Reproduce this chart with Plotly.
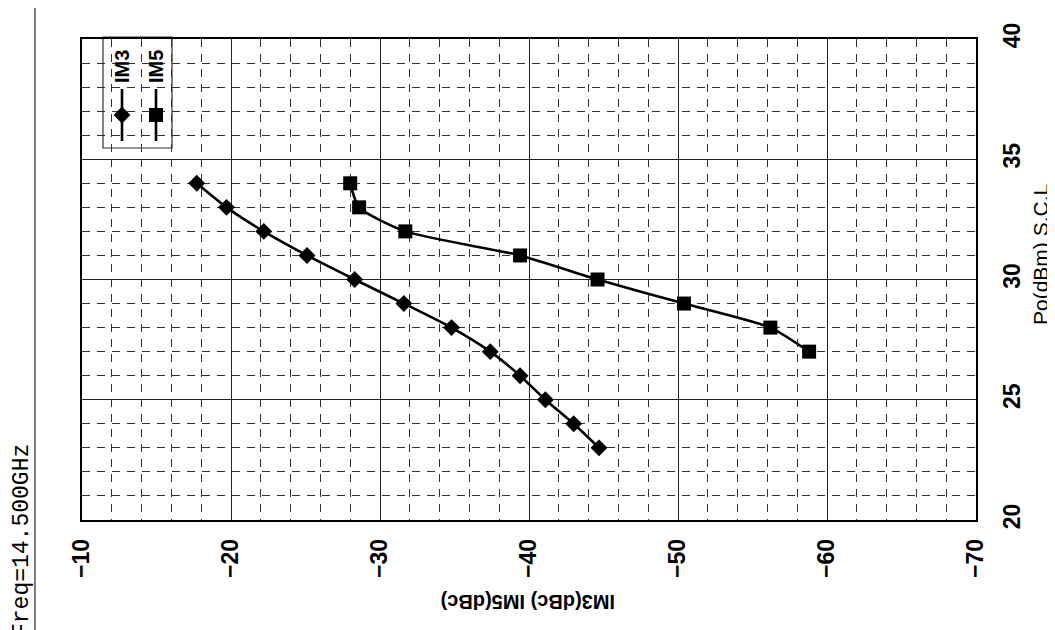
import plotly.graph_objects as go

# ---- data ----
im3_po = [34, 33, 32, 31, 30, 29, 28, 27, 26, 25, 24, 23]
im3_dbc = [-17.7, -19.7, -22.2, -25.1, -28.3, -31.6, -34.8, -37.4, -39.4, -41.1, -43.0, -44.7]
im5_po = [34, 33, 32, 31, 30, 29, 28, 27]
im5_dbc = [-28.0, -28.6, -31.7, -39.4, -44.6, -50.4, -56.2, -58.8]

x_ticks = [-10, -20, -30, -40, -50, -60, -70]
y_ticks = [20, 25, 30, 35, 40]
series_names = ["IM3", "IM5"]
x_title = "IM3(dBc) IM5(dBc)"
y_title = "Po(dBm) S.C.L"
freq_text = "Freq=14.500GHz"

# the page body adds an 8px offset, so the figure is drawn 8px smaller
OFF = 8
W, H = 1055 - OFF, 630 - OFF
L, R, T, B = 82 - OFF, 79, 39 - OFF, 110
pw, ph = W - L - R, H - T - B


def px(x):  # reference-screen pixel -> paper
    return (x - OFF - L) / pw


def py(y):
    return (H + OFF - B - y) / ph


fig = go.Figure()

fig.add_trace(go.Scatter(
    x=im3_dbc, y=im3_po, mode="lines+markers", name=series_names[0],
    line=dict(color="black", width=2.6, shape="spline", smoothing=0.6),
    marker=dict(symbol="diamond", size=13, color="black"),
    showlegend=False))
fig.add_trace(go.Scatter(
    x=im5_dbc, y=im5_po, mode="lines+markers", name=series_names[1],
    line=dict(color="black", width=2.6, shape="spline", smoothing=0.6),
    marker=dict(symbol="square", size=14, color="black"),
    showlegend=False))

# legend glyph markers on an overlay paper-like axis
leg_cols = [122, 156]
fig.add_trace(go.Scatter(
    x=[px(leg_cols[0])], y=[py(115)], xaxis="x2", yaxis="y2", mode="markers",
    marker=dict(symbol="diamond", size=13, color="black"), showlegend=False,
    cliponaxis=False, hoverinfo="skip"))
fig.add_trace(go.Scatter(
    x=[px(leg_cols[1])], y=[py(115)], xaxis="x2", yaxis="y2", mode="markers",
    marker=dict(symbol="square", size=14, color="black"), showlegend=False,
    cliponaxis=False, hoverinfo="skip"))

grid_dash = "8px,7px"
tickfont = dict(family="Liberation Sans, Arial, sans-serif", size=23, color="black", weight="bold")

fig.update_layout(
    width=W, height=H,
    margin=dict(l=L, r=R, t=T, b=B),
    paper_bgcolor="white", plot_bgcolor="white",
    xaxis=dict(
        range=[-10, -70], tickvals=x_ticks, ticktext=[f"\u2212{abs(v)}" for v in x_ticks],
        tickangle=-90, tickfont=tickfont, ticks="", ticklabelstandoff=8,
        showgrid=True, gridcolor="#222", gridwidth=1,
        minor=dict(dtick=2, tick0=-10, showgrid=True, gridcolor="#333", gridwidth=1, griddash=grid_dash),
        showline=True, linecolor="black", linewidth=1.5, mirror=True, zeroline=False,
    ),
    yaxis=dict(
        range=[20, 40], tickvals=y_ticks, side="right",
        tickangle=-90, tickfont=tickfont, ticks="", ticklabelstandoff=15,
        showgrid=True, gridcolor="#222", gridwidth=1,
        minor=dict(dtick=1, tick0=20, showgrid=True, gridcolor="#333", gridwidth=1, griddash=grid_dash),
        showline=True, linecolor="black", linewidth=1.5, mirror=True, zeroline=False,
    ),
    xaxis2=dict(range=[0, 1], overlaying="x", visible=False, fixedrange=True),
    yaxis2=dict(range=[0, 1], overlaying="y", visible=False, fixedrange=True),
)

shapes = []
# page border line at left
shapes.append(dict(type="line", xref="paper", yref="paper", x0=px(35), x1=px(35), y0=py(OFF), y1=py(630),
                   line=dict(color="#555", width=1.5)))
# legend box (above grid, below traces)
shapes.append(dict(type="rect", xref="paper", yref="paper", x0=px(103), x1=px(172), y0=py(148), y1=py(37),
                   fillcolor="white", line=dict(color="#333", width=1.2), layer="between"))
# legend lines
for lx in leg_cols:
    shapes.append(dict(type="line", xref="paper", yref="paper", x0=px(lx), x1=px(lx), y0=py(89), y1=py(141),
                       line=dict(color="black", width=2.6), layer="between"))
fig.update_layout(shapes=shapes)

ann = []
for name, lx in zip(series_names, leg_cols):
    ann.append(dict(text=name, xref="paper", yref="paper", x=px(lx), y=py(67), showarrow=False,
                    textangle=-90, xanchor="center", yanchor="middle",
                    font=dict(family="Liberation Sans, Arial, sans-serif", size=20, color="black", weight="bold")))
ann.append(dict(text=x_title, xref="paper", yref="paper", x=px(528), y=py(602), showarrow=False,
                textangle=180, xanchor="center", yanchor="middle",
                font=dict(family="Liberation Sans, Arial, sans-serif", size=20, color="black", weight="bold")))
ann.append(dict(text=y_title, xref="paper", yref="paper", x=px(1040), y=py(255), showarrow=False,
                textangle=-90, xanchor="center", yanchor="middle",
                font=dict(family="Liberation Sans, Arial, sans-serif", size=21, color="black")))
ann.append(dict(text=freq_text, xref="paper", yref="paper", x=px(22), y=py(541), showarrow=False,
                textangle=-90, xanchor="center", yanchor="middle",
                font=dict(family="Liberation Mono, DejaVu Sans Mono, monospace", size=23, color="black")))
fig.update_layout(annotations=ann)

fig.write_html("out.html")
